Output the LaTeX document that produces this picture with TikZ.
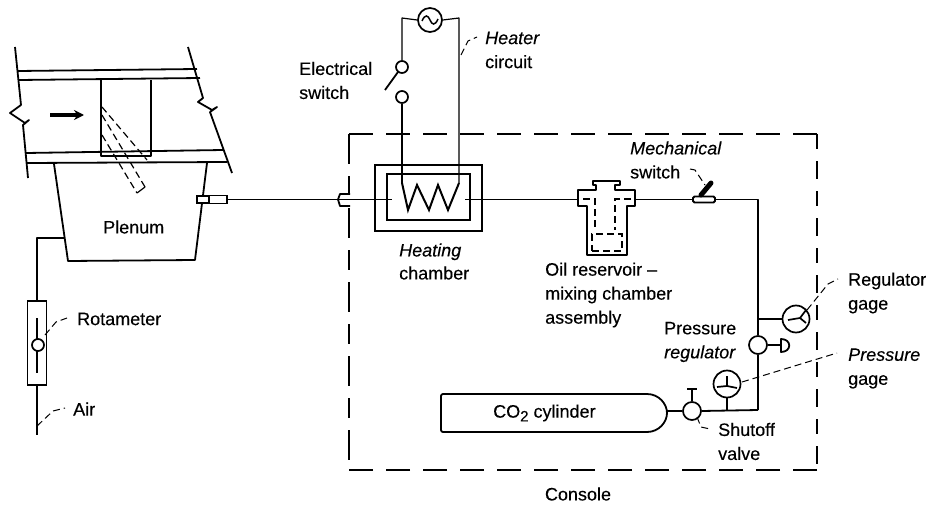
\documentclass[tikz,border=0pt]{standalone}
\usepackage{fontspec}
\setmainfont[FakeBold=0.25]{Liberation Sans}
\usetikzlibrary{arrows.meta}
\tikzset{
  pipe/.style={line width=1.2pt,line join=round},
  wall/.style={line width=1.8pt,line join=round},
  consolepen/.style={line width=1.9pt},
  leader/.style={line width=1pt,dash pattern=on 7pt off 4pt},
  hidden/.style={line width=1.2pt,dash pattern=on 7pt off 4pt},
  ring/.style={circle,draw,line width=1.7pt,inner sep=0pt,fill=white},
  lab/.style={inner sep=0pt,anchor=west,align=left,font=\fontsize{18}{24}\selectfont}
}
\begin{document}
\begin{tikzpicture}[x=1pt,y=-1pt]
\useasboundingbox (0,0) rectangle (934,508);
% duct
\draw[wall] (15,47) -- (21,105) -- (10,113) -- (25,123) -- (29,120) -- (23,125) -- (28,178);
\draw[wall] (188,47) -- (203,98) -- (198,102) -- (212,110) -- (217,107) -- (210,112) -- (232,173);
\draw[wall] (18,71) -- (197,69);
\draw[wall] (19,80) -- (200,78);
\draw[wall] (26,153) -- (223,150);
\draw[wall] (27,163) -- (227,162);
\draw[wall] (101,80) -- (101,156) -- (151,156) -- (151,80);
\draw[line width=3.5pt,-{Stealth[length=10pt,width=10pt]}] (50,115) -- (84,115);
% vane
\draw[hidden] (102,107) -- (147,160);
\draw[hidden] (102,115) -- (145,187);
\draw[hidden] (102,135) -- (137,193);
\draw[pipe] (137,193) -- (145,187);
% plenum
\draw[wall] (54,164) -- (68,261) -- (195,260) -- (207,163);
\node[lab] (plenum) at (103,227) {Plenum};
% plenum fitting
\node[draw,line width=1.3pt,fill=white,minimum width=12pt,minimum height=7pt,inner sep=0pt] (fitA) at (203,199.5) {};
\node[draw,line width=1.3pt,fill=white,minimum width=18pt,minimum height=8pt,inner sep=0pt] (fitB) at (218,199.5) {};
% air line & rotameter
\node[draw,line width=1.7pt,minimum width=19pt,minimum height=84pt,inner sep=0pt] (rota) at (37,343) {};
\coordinate (plenumtap) at (65,238);
\coordinate (airend) at (37,435);
\draw[pipe] (plenumtap) -- (37,238) -- (rota.north);
\draw[pipe] (rota.south) -- (airend);
\draw[pipe] (37,318) -- (37,373);
\node[ring,minimum size=12pt] (ball) at (38,345) {};
\node[lab] (lrota) at (77,319) {Rotameter};
\node[lab] (lair) at (73,409) {Air};
\coordinate (ra) at (45,335); \coordinate (rb) at (67,318);
\draw[leader] (ra) -- (56,322) -- (rb);
\coordinate (aa) at (37,426); \coordinate (ab) at (65,408);
\draw[leader] (aa) -- (53,411) -- (ab);
% console
\draw[consolepen,dash pattern=on 24pt off 13pt] (349,134) -- (817,134);
\draw[consolepen,dash pattern=on 15pt off 12pt on 18pt off 12pt] (817,134) -- (817,470);
\draw[consolepen,dash pattern=on 24pt off 13pt] (817,470) -- (349,470);
\draw[consolepen,dash pattern=on 30pt off 12pt on 20pt off 12pt] (349,134) -- (349,470);
\node[lab,anchor=center] (lconsole) at (578,494) {Console};
% main line
\coordinate (wallfit) at (349,199.5);
\draw[wall,fill=white] (350,194) -- (340,194) -- (338,199.5) -- (340,206) -- (350,206);
\draw[pipe] (fitB.east) -- (392,199.5);
\draw[pipe] (465,199.5) -- (578,199.5);
% heating chamber
\node[draw,line width=1.9pt,minimum width=107pt,minimum height=66pt,inner sep=0pt] (hout) at (428.5,198) {};
\node[draw,line width=1.7pt,minimum width=83pt,minimum height=46pt,inner sep=0pt] (hin) at (428.5,197) {};
\draw[line width=2pt,line join=miter] (402,183) -- (408,210) -- (417,185) -- (429,210) -- (438,185) -- (448,210) -- (459,183);
\coordinate (coilL) at (402,183);
\coordinate (coilR) at (459,183);
\node[lab,font=\fontsize{18}{23}\selectfont] (lheat) at (399,261.5) {\itshape Heating\\chamber};
% heater circuit
\node[ring,minimum size=24pt] (ac) at (430,20) {};
\draw[line width=1.5pt] (422,21) .. controls (425,14) and (428,15) .. (430,20) .. controls (432,25) and (435,26) .. (438,19);
\node[ring,minimum size=12pt] (swA) at (402,67) {};
\node[ring,minimum size=12pt] (swB) at (402,97) {};
\draw[pipe] (ac.west) -- (402,18) -- (swA.north);
\draw[pipe] (ac.east) -- (459,18) -- (coilR);
\draw[pipe] (swB.south) -- (coilL);
\coordinate (armend) at (385,90);
\draw[line width=1.8pt] (swA) ++(-4,5) -- (armend);
\node[lab] (lelec) at (299,80.5) {Electrical\\switch};
\node[lab] (lheater) at (485,50) {\itshape Heater\\\upshape circuit};
\coordinate (ha) at (461,55); \coordinate (hb) at (477,37);
\draw[leader] (ha) -- (468,41) -- (hb);
% oil reservoir
\draw[wall] (596,190) -- (596,185) -- (593,185) -- (593,181) -- (620,181) -- (620,185) -- (615,185) -- (615,190) -- (635,190) -- (635,206) -- (627,206) -- (627,255) -- (587,255) -- (587,206) -- (578,206) -- (578,190) -- cycle;
\draw[hidden] (583,199) -- (595,199) -- (595,230);
\draw[hidden] (631,199) -- (615,199) -- (615,230);
\node[draw,hidden,minimum width=30pt,minimum height=17pt,inner sep=0pt] (oilin) at (607,242.5) {};
\node[lab] (loil) at (545,295) {Oil reservoir --\\mixing chamber\\assembly};
% mechanical switch
\node[draw,line width=1.8pt,rounded corners=1.5pt,minimum width=22pt,minimum height=6pt,inner sep=0pt] (msw) at (704,199.5) {};
\draw[line width=5pt,line cap=round] (701,195) -- (711,183);
\draw[pipe] (635,199.5) -- (msw.west);
\coordinate (jreg) at (758,319);
\coordinate (jcorner) at (758,410);
\node[ring,minimum size=18pt] (reg) at (758,345) {};
\draw[pipe] (msw.east) -- (758,199.5) -- (reg.north);
\draw[pipe] (reg.south) -- (jcorner);
\node[lab] (lmech) at (630,160) {\itshape Mechanical\\\upshape switch};
\coordinate (ma) at (690,169); \coordinate (mb) at (705,185);
\draw[leader] (ma) -- (695,170) -- (mb);
% regulator gage
\node[ring,minimum size=27pt] (rgage) at (796,319) {};
\draw[wall] (jreg) -- (rgage.west);
\draw[line width=1.7pt] (788,320) -- (800,318) -- (806,310);
\draw[line width=1.7pt] (800,318) -- (806,323);
\coordinate (rga) at (807,310); \coordinate (rgb) at (838,279);
\draw[leader] (rga) -- (828,284) -- (rgb);
\node[lab] (lrg) at (848,293) {Regulator\\gage};
% knob
\coordinate (knob) at (781,345);
\draw[pipe] (reg.east) -- (knob);
\draw[wall] (781,339) -- (781,352) .. controls (792,352) and (792,339) .. cycle;
\node[lab] (lreg) at (664,342) {Pressure\\\itshape regulator};
% pressure gage
\node[ring,minimum size=27pt] (pgage) at (727,384) {};
\draw[line width=1.7pt] (717,387) -- (727,386) -- (737,388);
\draw[line width=1.7pt] (727,386) -- (727,376);
\node[ring,minimum size=18pt] (valve) at (692,411) {};
\draw[wall] (valve.east) -- (jcorner);
\draw[pipe] (pgage.south) -- (727,410);
\coordinate (pa) at (742,382); \coordinate (pb) at (837,353);
\draw[leader] (pa) -- (pb);
\node[lab] (lpg) at (848,368.5) {\itshape Pressure\\\upshape gage};
% valve
\coordinate (capm) at (692,389);
\draw[pipe] (valve.north) -- (capm);
\draw[wall] (687,389) -- (697,389);
\coordinate (va) at (697,417); \coordinate (vb) at (710,429);
\draw[leader] (va) -- (701,427) -- (vb);
\node[lab] (lvalve) at (718,441.5) {Shutoff\\valve};
% cylinder
\draw[wall,rounded corners=2pt] (647,394) -- (441,394) -- (441,432) -- (647,432);
\draw[wall] (647,394) .. controls (659,394) and (667,404) .. (667,413) .. controls (667,422) and (659,432) .. (647,432);
\coordinate (cyl) at (667,411);
\draw[wall] (cyl) -- (valve.west);
\node[lab] (lcyl) at (493,413) {CO{\raisebox{-0.4ex}{\fontsize{15}{15}\selectfont 2}} cylinder};
\end{tikzpicture}
\end{document}
